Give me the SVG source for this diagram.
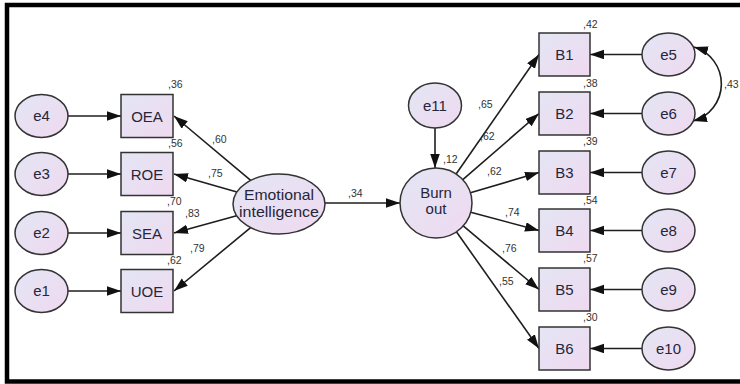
<svg xmlns="http://www.w3.org/2000/svg" width="740" height="384" viewBox="0 0 740 384">
<style>
.nd{stroke:#333;stroke-width:1.5;fill:url(#g)}
.t{font-family:"Liberation Sans",Arial,sans-serif;font-size:15px;fill:#26263a;text-anchor:middle}
.big{font-size:15px}
.lb{font-family:"Liberation Sans",Arial,sans-serif;font-size:10.5px;fill:#333}
.cn{stroke:#1e1e1e;stroke-width:1.6;fill:none;marker-end:url(#ah)}
</style>
<defs>
<linearGradient id="g" x1="0" y1="0" x2="1" y2="1">
<stop offset="0" stop-color="#e3e6f4"/>
<stop offset="1" stop-color="#f0d9f0"/>
</linearGradient>
<marker id="ah" markerUnits="userSpaceOnUse" markerWidth="15" markerHeight="10" refX="14" refY="4.75" orient="auto-start-reverse">
<path d="M0,0 L14,4.75 L0,9.5 Z" fill="#111"/>
</marker>
</defs>
<rect x="0" y="0" width="740" height="384" fill="#fff"/>
<rect x="7" y="5" width="800" height="376.5" fill="#fff" stroke="#000" stroke-width="4.5"/>

<g id="connectors">
<line class="cn" x1="68" y1="116" x2="121" y2="116"/>
<line class="cn" x1="68" y1="174" x2="121" y2="174"/>
<line class="cn" x1="68" y1="233" x2="121" y2="233"/>
<line class="cn" x1="68" y1="291" x2="121" y2="291"/>
<line class="cn" x1="250.7" y1="180.3" x2="174" y2="116"/>
<line class="cn" x1="236.9" y1="192" x2="174" y2="174"/>
<line class="cn" x1="236.6" y1="215.7" x2="174" y2="233"/>
<line class="cn" x1="250.6" y1="227.6" x2="174" y2="291"/>
<line class="cn" x1="325" y1="203" x2="400" y2="203"/>
<line class="cn" x1="435" y1="128" x2="435" y2="168"/>
<line class="cn" x1="456.1" y1="174" x2="539" y2="54.5"/>
<line class="cn" x1="462.8" y1="179.7" x2="539" y2="113.5"/>
<line class="cn" x1="470.4" y1="192.8" x2="539" y2="172.5"/>
<line class="cn" x1="470.7" y1="212.3" x2="539" y2="230.5"/>
<line class="cn" x1="463.2" y1="225.9" x2="539" y2="289.5"/>
<line class="cn" x1="456.4" y1="231.8" x2="539" y2="348.5"/>
<line class="cn" x1="642" y1="54.5" x2="590" y2="54.5"/>
<line class="cn" x1="642" y1="113.5" x2="590" y2="113.5"/>
<line class="cn" x1="642" y1="172.5" x2="590" y2="172.5"/>
<line class="cn" x1="642" y1="230.5" x2="590" y2="230.5"/>
<line class="cn" x1="642" y1="289.5" x2="590" y2="289.5"/>
<line class="cn" x1="642" y1="348.5" x2="590" y2="348.5"/>
<path class="cn" d="M694 47 A38.5 38.5 0 0 1 693 121" marker-start="url(#ah)"/>
</g>

<g id="e4"><ellipse class="nd" cx="41.5" cy="116" rx="26.5" ry="21.5"/><text class="t" x="41.5" y="121">e4</text></g>
<g id="e3"><ellipse class="nd" cx="41.5" cy="174" rx="26.5" ry="21.5"/><text class="t" x="41.5" y="179">e3</text></g>
<g id="e2"><ellipse class="nd" cx="41.5" cy="233" rx="26.5" ry="21.5"/><text class="t" x="41.5" y="238">e2</text></g>
<g id="e1"><ellipse class="nd" cx="41.5" cy="291" rx="26.5" ry="21.5"/><text class="t" x="41.5" y="296">e1</text></g>

<g id="OEA"><rect class="nd" x="121" y="94.5" width="52" height="43"/><text class="t" x="147" y="121.5">OEA</text></g>
<g id="ROE"><rect class="nd" x="121" y="152.5" width="52" height="43"/><text class="t" x="147" y="179.5">ROE</text></g>
<g id="SEA"><rect class="nd" x="121" y="211.5" width="52" height="43"/><text class="t" x="147" y="238.5">SEA</text></g>
<g id="UOE"><rect class="nd" x="121" y="269.5" width="52" height="43"/><text class="t" x="147" y="296.5">UOE</text></g>

<g id="EI"><ellipse class="nd" cx="279" cy="204" rx="46" ry="30"/><text class="t big" x="279" y="200" textLength="70" lengthAdjust="spacingAndGlyphs">Emotional</text><text class="t big" x="279" y="217" textLength="80" lengthAdjust="spacingAndGlyphs">intelligence</text></g>

<g id="e11"><ellipse class="nd" cx="435" cy="105.5" rx="26.5" ry="22.5"/><text class="t" x="435" y="110.5">e11</text></g>
<g id="Burnout"><ellipse class="nd" cx="436" cy="203" rx="36" ry="35"/><text class="t big" x="436" y="198">Burn</text><text class="t big" x="436" y="214">out</text></g>

<g id="B1"><rect class="nd" x="539" y="33" width="51" height="43"/><text class="t" x="564.5" y="60">B1</text></g>
<g id="B2"><rect class="nd" x="539" y="92" width="51" height="43"/><text class="t" x="564.5" y="119">B2</text></g>
<g id="B3"><rect class="nd" x="539" y="151" width="51" height="43"/><text class="t" x="564.5" y="178">B3</text></g>
<g id="B4"><rect class="nd" x="539" y="209" width="51" height="43"/><text class="t" x="564.5" y="236">B4</text></g>
<g id="B5"><rect class="nd" x="539" y="268" width="51" height="43"/><text class="t" x="564.5" y="295">B5</text></g>
<g id="B6"><rect class="nd" x="539" y="327" width="51" height="43"/><text class="t" x="564.5" y="354">B6</text></g>

<g id="e5"><ellipse class="nd" cx="668.5" cy="54.5" rx="26.5" ry="21.5"/><text class="t" x="668.5" y="59.5">e5</text></g>
<g id="e6"><ellipse class="nd" cx="668.5" cy="113.5" rx="26.5" ry="21.5"/><text class="t" x="668.5" y="118.5">e6</text></g>
<g id="e7"><ellipse class="nd" cx="668.5" cy="172.5" rx="26.5" ry="21.5"/><text class="t" x="668.5" y="177.5">e7</text></g>
<g id="e8"><ellipse class="nd" cx="668.5" cy="230.5" rx="26.5" ry="21.5"/><text class="t" x="668.5" y="235.5">e8</text></g>
<g id="e9"><ellipse class="nd" cx="668.5" cy="289.5" rx="26.5" ry="21.5"/><text class="t" x="668.5" y="294.5">e9</text></g>
<g id="e10"><ellipse class="nd" cx="668.5" cy="348.5" rx="26.5" ry="21.5"/><text class="t" x="668.5" y="353.5">e10</text></g>

<g id="labels">
<text class="lb" x="168" y="88">,36</text>
<text class="lb" x="168" y="146.5">,56</text>
<text class="lb" x="167" y="205">,70</text>
<text class="lb" x="167" y="263.5">,62</text>
<text class="lb" x="212" y="143">,60</text>
<text class="lb" x="208" y="177">,75</text>
<text class="lb" x="185" y="217">,83</text>
<text class="lb" x="190" y="252">,79</text>
<text class="lb" x="348" y="197">,34</text>
<text class="lb" x="443" y="163">,12</text>
<text class="lb" x="478" y="108">,65</text>
<text class="lb" x="480" y="140">,62</text>
<text class="lb" x="487" y="175">,62</text>
<text class="lb" x="505" y="216">,74</text>
<text class="lb" x="502" y="252">,76</text>
<text class="lb" x="499" y="285">,55</text>
<text class="lb" x="583" y="28">,42</text>
<text class="lb" x="583" y="86.5">,38</text>
<text class="lb" x="583" y="145">,39</text>
<text class="lb" x="583" y="203.5">,54</text>
<text class="lb" x="583" y="262">,57</text>
<text class="lb" x="583" y="320.5">,30</text>
<text class="lb" x="724" y="88">,43</text>
</g>
</svg>
